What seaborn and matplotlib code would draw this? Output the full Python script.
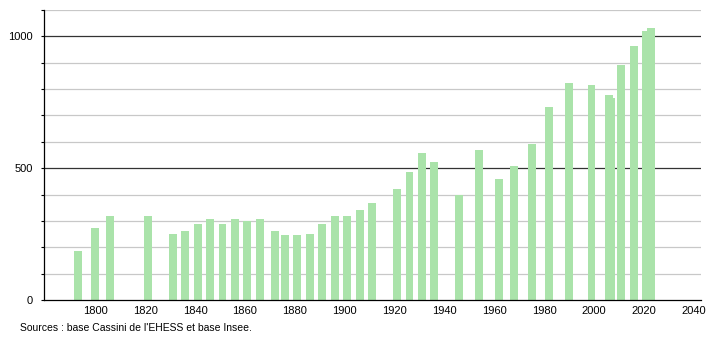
import matplotlib
matplotlib.use("Agg")
import matplotlib.pyplot as plt
import seaborn as sns
import pandas as pd
from matplotlib.ticker import MultipleLocator

years = [1793, 1800, 1806, 1821, 1831, 1836, 1841, 1846, 1851, 1856, 1861, 1866,
         1872, 1876, 1881, 1886, 1891, 1896, 1901, 1906, 1911, 1921, 1926, 1931,
         1936, 1946, 1954, 1962, 1968, 1975, 1982, 1990, 1999, 2006, 2007, 2011,
         2016, 2021, 2023]
population = [187, 275, 320, 319, 251, 262, 289, 308, 289, 308, 300, 307,
              260, 247, 247, 251, 289, 319, 319, 340, 368, 422, 487, 558,
              525, 398, 570, 460, 509, 593, 733, 825, 814, 777, 768, 891,
              962, 1019, 1032]
x_ticks = [1800, 1820, 1840, 1860, 1880, 1900, 1920, 1940, 1960, 1980, 2000, 2020, 2040]
y_ticks = [0, 500, 1000]
source_text = "Sources : base Cassini de l'EHESS et base Insee."

sns.set_theme(style="white")
plt.rcParams['font.family'] = ['Liberation Sans', 'DejaVu Sans']

df = pd.DataFrame({"year": years, "pop": population})

fig = plt.figure(figsize=(7.1, 3.4), dpi=100)
ax = fig.add_axes([44 / 710, 40 / 340, (700.7 - 44) / 710, 290 / 340])

sns.barplot(data=df, x="year", y="pop", native_scale=True, width=3.2,
            color="#aae3aa", saturation=1, edgecolor="none", linewidth=0,
            ax=ax, zorder=3)

ax.set_xlim(1779.4, 2042.8)
ax.set_ylim(0, 1100)
ax.set_xticks(x_ticks)
ax.set_xticklabels([str(t) for t in x_ticks])
ax.set_yticks(y_ticks)
ax.set_yticklabels([str(t) for t in y_ticks])
ax.yaxis.set_minor_locator(MultipleLocator(100))

ax.grid(False)
for v in range(100, 1101, 100):
    if v % 500 == 0:
        ax.axhline(v, color="#333333", lw=0.9, zorder=1)
    else:
        ax.axhline(v, color="#c8c8c8", lw=0.9, zorder=1)

ax.set_xlabel("")
ax.set_ylabel("")
for s in ["top", "right"]:
    ax.spines[s].set_visible(False)
ax.spines["left"].set_color("#000000")
ax.spines["left"].set_linewidth(0.9)
ax.spines["bottom"].set_color("#000000")
ax.spines["bottom"].set_linewidth(0.9)
ax.spines["left"].set_zorder(4)
ax.spines["bottom"].set_zorder(4)

ax.tick_params(axis="y", which="both", left=True, length=2, width=0.8, color="#000000",
               labelsize=8, pad=6, labelcolor="#000000")
ax.tick_params(axis="x", which="both", bottom=False, length=0, labelsize=8, pad=4,
               labelcolor="#000000")

fig.text(20 / 710, 1 - 328 / 340, source_text, fontsize=7.5, color="#000000",
         va="center", ha="left")

fig.savefig("out.png", dpi=100)
